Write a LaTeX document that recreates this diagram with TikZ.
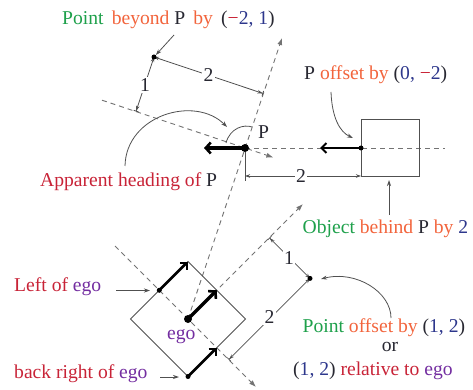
\documentclass[tikz,border=0pt]{standalone}
\usepackage{fontspec}
\setmainfont{Liberation Serif}
\usetikzlibrary{arrows.meta}
\definecolor{cgreen}{RGB}{30,160,75}
\definecolor{corange}{RGB}{242,100,60}
\definecolor{ccrimson}{RGB}{200,35,55}
\definecolor{cblue}{RGB}{45,55,140}
\definecolor{cpurple}{RGB}{115,45,160}
\definecolor{cdark}{RGB}{40,40,50}
\definecolor{linec}{RGB}{80,80,80}
\definecolor{dashc}{RGB}{115,115,115}
\newcommand{\txG}[1]{\textcolor{cgreen}{#1}}
\newcommand{\txO}[1]{\textcolor{corange}{#1}}
\newcommand{\txR}[1]{\textcolor{ccrimson}{#1}}
\newcommand{\txB}[1]{\textcolor{cblue}{#1}}
\newcommand{\txP}[1]{\textcolor{cpurple}{#1}}
\newcommand{\txK}[1]{\textcolor{cdark}{#1}}
\newcommand{\txM}{\textcolor{ccrimson}{−}}
\begin{document}
\begin{tikzpicture}[x=1pt,y=-1pt,
  every node/.style={font=\fontsize{19.6}{22}\selectfont, inner sep=0pt, text=cdark},
  lbl/.style={anchor=base west},
  dimlbl/.style={fill=white, inner sep=1.5pt},
  axis/.style={draw=dashc, line width=0.9pt, dash pattern=on 5pt off 4pt, -{Latex[length=7pt,width=5pt]}},
  axisplain/.style={draw=dashc, line width=0.9pt, dash pattern=on 5pt off 4pt},
  thin/.style={draw=linec, line width=0.8pt},
  pointer/.style={draw=linec, line width=0.8pt, -{Stealth[length=6pt,width=4pt]}},
  heavy/.style={draw=black, line width=2.6pt, -{Straight Barb[length=5pt,width=10pt,line width=2pt]}},
  heavier/.style={draw=black, line width=3.4pt, -{Straight Barb[length=5pt,width=11pt,line width=2.6pt]}},
  dimline/.style={draw=linec, line width=0.8pt, {Bar[width=5pt]Stealth[length=5pt,width=3.5pt]}-{Stealth[length=5pt,width=3.5pt]}},
  dimboth/.style={draw=linec, line width=0.8pt, {Stealth[length=5pt,width=3.5pt]}-{Stealth[length=5pt,width=3.5pt]}},
  dotc/.style={fill=black, circle, inner sep=0pt, minimum size=#1},
  dotc/.default=6pt
]
\useasboundingbox (0,0) rectangle (473,390);

% ---------- coordinates ----------
\coordinate (E) at (188,319);
\coordinate (Ct) at (188,261.5);
\coordinate (Cr) at (245.5,319);
\coordinate (Cb) at (188,376.5);
\coordinate (Cl) at (130.5,319);
\coordinate (FM) at (216.75,290.25);
\coordinate (LM) at (159.25,290.25);
\coordinate (BRM) at (216.75,347.75);
\coordinate (fwdEnd) at (303,204);
\coordinate (rgtStart) at (115,246);
\coordinate (rgtEnd) at (256,387);

\coordinate (P) at (245,148);
\coordinate (losEnd) at (282,38);
\coordinate (perpStart) at (102,100.2);
\coordinate (perpEnd) at (273.4,157.5);
\coordinate (horizEnd) at (445,148);
\coordinate (PH) at (204,148);

\coordinate (OB) at (361,148);
\coordinate (OBH) at (320,148);
\coordinate (box1) at (361,119);
\coordinate (box2) at (419,176);

\coordinate (Q1) at (154,57);
\coordinate (A1) at (263.2,93.5);
\coordinate (B1) at (136,111.5);
\coordinate (Q2) at (310,278.4);
\coordinate (A2) at (269.3,237.7);
\coordinate (B2) at (228.7,359.7);

\coordinate (extTop) at (245,152);
\coordinate (extBot) at (245,181);
\coordinate (dimL) at (245,176);
\coordinate (dimR) at (361,176);

% ---------- dashed axes ----------
\draw[axis] (E) -- (fwdEnd);
\draw[axis] (rgtStart) -- (rgtEnd);
\draw[axis] (E) -- (losEnd);
\draw[axis] (perpStart) -- (perpEnd);
\draw[axisplain] (P) -- (horizEnd);

% ---------- ego box ----------
\draw[thin] (Ct) -- (Cr) -- (Cb) -- (Cl) -- cycle;
\draw[heavier] (E) -- (FM);
\draw[heavy] (LM) -- (Ct);
\draw[heavy] (Cb) -- (BRM);
\node[dotc=8pt] (egodot) at (E) {};
\node[dotc=5pt] (ldot) at (LM) {};
\node[dotc=5pt] (bdot) at (Cb) {};

% ---------- object box ----------
\draw[thin] (box1) rectangle (box2);
\draw[heavy] (OB) -- (OBH);
\node[dotc=5pt] (obdot) at (OB) {};

% ---------- P ----------
\draw[heavier] (P) -- (PH);
\node[dotc=8pt] (pdot) at (P) {};
\draw[thin] (226,143) .. controls (230,128) and (244,124) .. (252,127);

% ---------- dimensions ----------
\draw[dimline] (A1) -- (Q1);
\draw[dimline] (B1) -- (Q1);
\node[dotc=5pt] (q1dot) at (Q1) {};
\node[dimlbl] (d12) at (208.5,75) {2};
\node[dimlbl] (d11) at (145,85) {1};

\draw[dimline] (A2) -- (Q2);
\draw[dimline] (B2) -- (Q2);
\node[dotc=5pt] (q2dot) at (Q2) {};
\node[dimlbl] (d21) at (289,258) {1};
\node[dimlbl] (d22) at (269.5,317) {2};

\draw[thin] (extTop) -- (extBot);
\draw[dimboth] (dimL) -- (dimR);
\node[dimlbl] (d3) at (301,176) {2};

% ---------- texts ----------
\node[lbl] (t1) at (62,24.5) {\txG{Point}\, \txO{beyond} \txK{P}\, \txO{by}\, \txK{(}\txM\txB{2, 1}\txK{)}};
\node[lbl] (t2) at (304,80) {\txK{P} \txO{offset by} \txK{(}\txB{0,} \txM\txB{2}\txK{)}};
\node[lbl] (t3) at (40,186.5) {\txR{Apparent heading of} \txK{P}};
\node[lbl] (t4) at (302.5,233) {\txG{Object} \txO{behind} \txK{P} \txO{by} \txB{2}};
\node[lbl] (t5) at (14,291.5) {\txR{Left of} \txP{ego}};
\node[lbl] (t6) at (167,339) {\txP{ego}};
\node[lbl] (t7) at (14,378) {\txR{back right of} \txP{ego}};
\node[lbl] (t8) at (302.5,332.3) {\txG{Point} \txO{offset by} \txK{(}\txB{1, 2}\txK{)}};
\node[anchor=base] (t9) at (390,351.5) {\txK{or}};
\node[lbl] (t10) at (293,375) {\txK{(}\txB{1, 2}\txK{)} \txR{relative to} \txP{ego}};
\node[lbl] (tP) at (258,139) {\txK{P}};

% ---------- pointers ----------
\coordinate (pb1) at (174,35);
\draw[pointer] (pb1) -- (q1dot);
\coordinate (ah1) at (125,166);
\coordinate (ah2) at (227,127);
\draw[pointer] (ah1) .. controls (126,115) and (195,95) .. (ah2);
\coordinate (po1) at (331,92);
\coordinate (po2) at (353,138);
\draw[pointer] (po1) .. controls (332,118) and (340,132) .. (po2);
\coordinate (ob1) at (389,215);
\coordinate (ob2) at (389,180);
\draw[pointer] (ob1) -- (ob2);
\coordinate (q2a) at (391,318);
\coordinate (q2b) at (321,279);
\draw[pointer] (q2a) .. controls (391,292) and (356,270) .. (q2b);
\coordinate (le1) at (116,290.5);
\coordinate (le2) at (150,290.5);
\draw[pointer] (le1) -- (le2);
\coordinate (br1) at (160,377);
\coordinate (br2) at (179,377);
\draw[pointer] (br1) -- (br2);
\end{tikzpicture}
\end{document}
